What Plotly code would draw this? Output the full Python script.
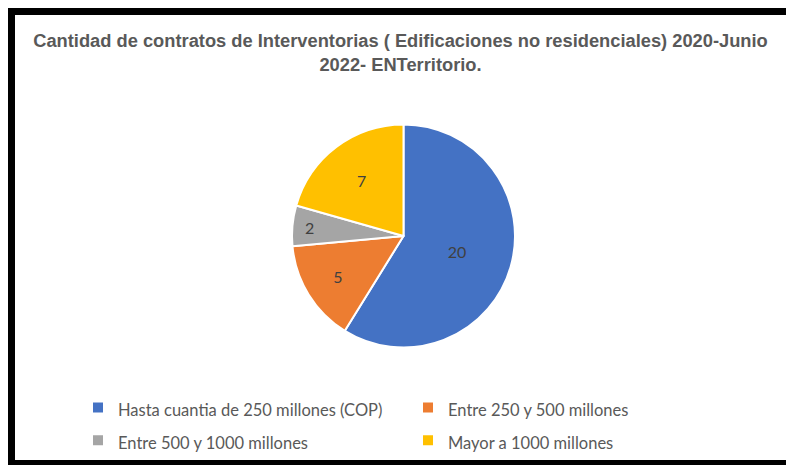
import plotly.graph_objects as go

# The page adds an 8px body margin; keep the figure inside the window so no scrollbars appear.
W, H = 778, 457
# black frame: drawn by the (black) paper showing through the margins around the white plot area
ML, MT, MB, MR = 7, 7, 5, 0
PW, PH = W - ML - MR, H - MT - MB

categories = [
    "Hasta cuantia de 250 millones (COP)",
    "Entre 250 y 500 millones",
    "Entre 500 y 1000 millones",
    "Mayor a 1000 millones",
]
values = [20, 5, 2, 7]
colors = ["#4472C4", "#ED7D31", "#A5A5A5", "#FFC000"]
title_text = ("Cantidad de contratos de Interventorias ( Edificaciones no residenciales) 2020-Junio"
              "<br>2022- ENTerritorio.")

legend_labels = ['<span style="font-size:16.5px">%s</span>' % c for c in categories]

# pie geometry in figure pixels
cx, cy, r = 395.5, 228, 111.5

fig = go.Figure()
# empty cartesian trace so that the white plot area is drawn
fig.add_trace(go.Scatter(x=[], y=[], showlegend=False, hoverinfo="skip"))
fig.add_trace(go.Pie(
    labels=legend_labels,
    values=values,
    marker=dict(colors=colors, line=dict(color="white", width=2)),
    sort=False,
    direction="clockwise",
    rotation=0,
    textinfo="value",
    textposition="inside",
    insidetextorientation="horizontal",
    textfont=dict(family="Lato, Open Sans, sans-serif", size=16, color="#404040"),
    domain=dict(x=[(cx - r - ML) / PW, (cx + r - ML) / PW],
                y=[1 - (cy + r - MT) / PH, 1 - (cy - r - MT) / PH]),
    hoverinfo="label+value",
))

fig.update_layout(
    width=W, height=H,
    margin=dict(l=ML, r=MR, t=MT, b=MB, pad=0),
    paper_bgcolor="black",
    plot_bgcolor="white",
    xaxis=dict(visible=False, showgrid=False, zeroline=False),
    yaxis=dict(visible=False, showgrid=False, zeroline=False),
    title=dict(
        text=title_text,
        x=392.5 / W, xanchor="center",
        y=1 - 39 / H, yanchor="top", yref="container",
        font=dict(family="Liberation Sans, Arial, sans-serif",
                  size=18.3, color="#595959", weight="bold"),
    ),
    legend=dict(
        orientation="h",
        x=(70 - ML) / PW, xanchor="left",
        y=1 - (378 - MT) / PH, yanchor="top",
        entrywidth=285, entrywidthmode="pixels",
        font=dict(family="Lato, Open Sans, sans-serif", size=23, color="#595959"),
        bgcolor="rgba(0,0,0,0)",
    ),
)

fig.write_html("out.html")
